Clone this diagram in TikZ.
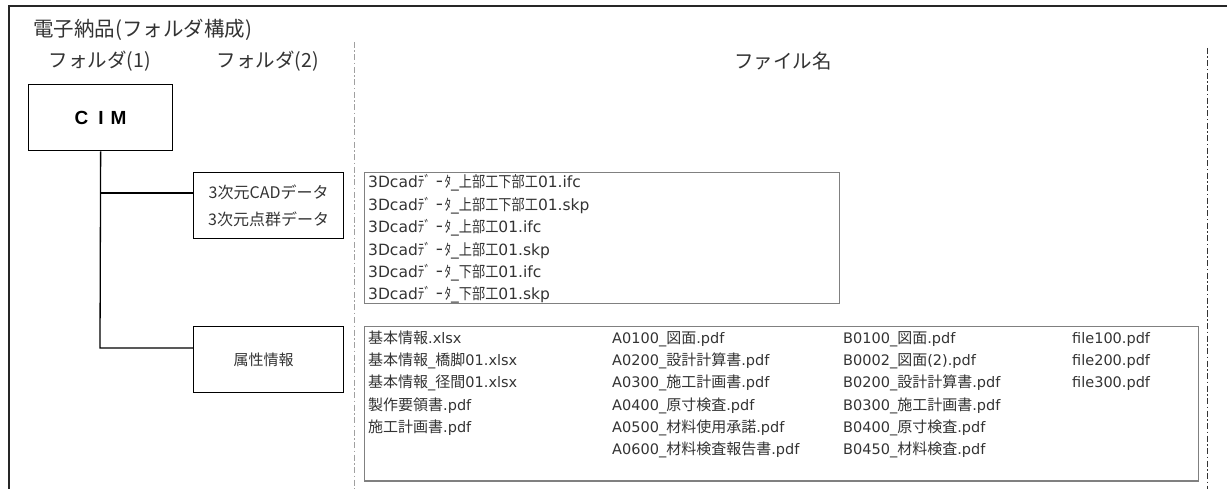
\documentclass[tikz,border=0pt]{standalone}
\usepackage{fontspec}
\setmainfont{Noto Sans CJK JP}
\newfontfamily\latf{DejaVu Sans}
\newfontfamily\cjkn[FakeStretch=0.85]{Noto Sans CJK JP}
\newfontfamily\cimfont{Liberation Sans}
\newcommand\Lx[1]{{\latf\fontsize{14.5}{16}\selectfont #1}}
\newcommand\Ly[1]{{\latf #1}}
\newcommand\Dta{ﾃﾞ\hspace{5pt}ｰ\hspace{2pt}ﾀ}
\definecolor{txt}{HTML}{333333}
\definecolor{lbox}{HTML}{808080}
\definecolor{dline}{HTML}{A0A0A0}
\tikzset{
  folder/.style={draw=black, line width=1.3pt, inner sep=0pt, anchor=north west, text=txt},
  listbox/.style={draw=lbox, line width=0.8pt, inner sep=0pt, anchor=north west},
  head/.style={text=txt, inner sep=0pt, font=\fontsize{19.5}{22}\selectfont},
  ftxt/.style={anchor=base west, inner sep=0pt, text=txt, font=\fontsize{15}{16}\selectfont},
  ftxtn/.style={anchor=base west, inner sep=0pt, text=txt, font=\cjkn\fontsize{15.5}{16}\selectfont},
  conn/.style={draw=black, line width=1.3pt},
  frame/.style={draw=black!85, line width=1.4pt},
  sepline/.style={line width=1pt, dash pattern=on 6pt off 2.5pt on 1.5pt off 2.5pt}
}
\begin{document}
\begin{tikzpicture}[x=1pt,y=-1pt]
\useasboundingbox (0,0) rectangle (1227,489);
% frame
\coordinate (fbl) at (9,489);
\coordinate (ftl) at (9,6);
\coordinate (ftr) at (1227,6);
\draw[frame] (fbl) -- (ftl) -- (ftr);
% separators
\coordinate (s1t) at (354,42);
\coordinate (s1b) at (354,489);
\coordinate (s2t) at (1207,48);
\coordinate (s2b) at (1207,489);
\draw[sepline, draw=dline] (s1t) -- (s1b);
\draw[sepline, draw=black!80] (s2t) -- (s2b);
% headings
\node[head, anchor=west, font=\fontsize{20.5}{22}\selectfont] (title) at (33,30) {電子納品(フォルダ構成)};
\node[head] (h1) at (100,61) {フォルダ(1)};
\node[head] (h2) at (268,61) {フォルダ(2)};
\node[head] (h3) at (783,61) {ファイル名};
% folder boxes
\node[folder, minimum width=144pt, minimum height=66pt,
      font=\cimfont\bfseries\fontsize{19}{20}\selectfont, text=black] (cim) at (28,84)
      {C\hspace{10pt}I\hspace{7pt}M};
\node[folder, minimum width=150pt, minimum height=66pt, align=center,
      font=\fontsize{16}{27}\selectfont] (b1) at (193,172) {3次元CADデータ\\3次元点群データ};
\node[folder, minimum width=150pt, minimum height=66pt,
      font=\fontsize{15}{16}\selectfont] (b2) at (193,326) {\hspace{-10pt}属性情報};
% connectors
\coordinate (j1) at (100,193);
\coordinate (j2) at (100,348);
\draw[conn] (cim.south) -- (j2) -- (j2 -| b2.west);
\draw[conn] (j1) -- (j1 -| b1.west);
% list boxes
\node[listbox, minimum width=475pt, minimum height=131pt] (l1) at (364,172) {};
\node[listbox, minimum width=834pt, minimum height=154pt] (l2) at (364,326) {};
\draw[draw=lbox, line width=1.6pt] (l2.south west) -- (l2.south east);
% list 1
\foreach \t [count=\i] in {
  \Ly{3Dcad}\Dta\Ly{\_}上部工下部工\Ly{01.ifc},
  \Ly{3Dcad}\Dta\Ly{\_}上部工下部工\Ly{01.skp},
  \Ly{3Dcad}\Dta\Ly{\_}上部工\Ly{01.ifc},
  \Ly{3Dcad}\Dta\Ly{\_}上部工\Ly{01.skp},
  \Ly{3Dcad}\Dta\Ly{\_}下部工\Ly{01.ifc},
  \Ly{3Dcad}\Dta\Ly{\_}下部工\Ly{01.skp}}
  \node[ftxtn] (a\i) at (368,{188+22.4*(\i-1)}) {\t};
% list 2
\foreach \t [count=\i] in {
  基本情報\Lx{.xlsx},
  基本情報\Lx{\_}橋脚\Lx{01.xlsx},
  基本情報\Lx{\_}径間\Lx{01.xlsx},
  製作要領書\Lx{.pdf},
  施工計画書\Lx{.pdf}}
  \node[ftxt] (c\i) at (368,{343.5+22.2*(\i-1)}) {\t};
\foreach \t [count=\i] in {
  \Lx{A0100\_}図面\Lx{.pdf},
  \Lx{A0200\_}設計計算書\Lx{.pdf},
  \Lx{A0300\_}施工計画書\Lx{.pdf},
  \Lx{A0400\_}原寸検査\Lx{.pdf},
  \Lx{A0500\_}材料使用承諾\Lx{.pdf},
  \Lx{A0600\_}材料検査報告書\Lx{.pdf}}
  \node[ftxt] (d\i) at (612,{343.5+22.2*(\i-1)}) {\t};
\foreach \t [count=\i] in {
  \Lx{B0100\_}図面\Lx{.pdf},
  \Lx{B0002\_}図面\Lx{(2).pdf},
  \Lx{B0200\_}設計計算書\Lx{.pdf},
  \Lx{B0300\_}施工計画書\Lx{.pdf},
  \Lx{B0400\_}原寸検査\Lx{.pdf},
  \Lx{B0450\_}材料検査\Lx{.pdf}}
  \node[ftxt] (e\i) at (843,{343.5+22.2*(\i-1)}) {\t};
\foreach \t [count=\i] in {
  \Lx{file100.pdf},
  \Lx{file200.pdf},
  \Lx{file300.pdf}}
  \node[ftxt] (g\i) at (1072,{343.5+22.2*(\i-1)}) {\t};
\end{tikzpicture}
\end{document}
